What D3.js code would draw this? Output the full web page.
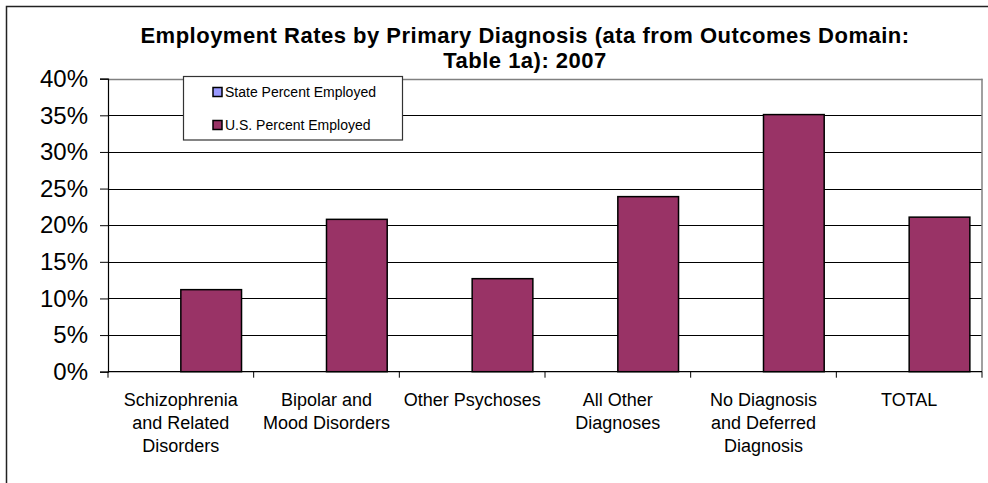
<!DOCTYPE html>
<html>
<head>
<meta charset="utf-8">
<script src="https://cdn.jsdelivr.net/npm/d3@7"></script>
<style>
html,body{margin:0;padding:0;background:#fff;}
svg{display:block;font-family:Arial,"Liberation Sans",sans-serif;}
</style>
</head>
<body>
<svg id="chart" width="988" height="483"></svg>
<script>
const categories = [
  ["Schizophrenia","and Related","Disorders"],
  ["Bipolar and","Mood Disorders"],
  ["Other Psychoses"],
  ["All Other","Diagnoses"],
  ["No Diagnosis","and Deferred","Diagnosis"],
  ["TOTAL"]
];
const seriesNames = ["State Percent Employed","U.S. Percent Employed"];
const statePct = [null,null,null,null,null,null];
const usPct = [11.2,20.8,12.7,23.9,35.1,21.1];
const yTicks = [0,5,10,15,20,25,30,35,40];
const titleLines = ["Employment Rates by Primary Diagnosis (ata from Outcomes Domain:","Table 1a): 2007"];
const colors = ["#9999FF","#993366"];

const svg = d3.select("#chart");
const W = 988, H = 483;
const plot = {left:108, right:982, top:78.7, bottom:371.7};

// outer frame
svg.append("rect").attr("x",6.5).attr("y",6.5).attr("width",W+10).attr("height",H+10)
  .attr("fill","#fff").attr("stroke","#222").attr("stroke-width",1.5);

const idx = categories.map((d,i)=>i);
const x = d3.scaleBand().domain(idx).range([plot.left,plot.right]).paddingInner(0).paddingOuter(0);
const inner = d3.scaleBand().domain([0,1]).range([0,x.bandwidth()]).paddingInner(0).paddingOuter(0.2);
const y = d3.scaleLinear().domain([0,40]).range([plot.bottom,plot.top]);

// gridlines
svg.append("g").selectAll("line").data(yTicks.filter(t=>t>0 && t<40)).join("line")
  .attr("x1",plot.left).attr("x2",plot.right)
  .attr("y1",d=>Math.round(y(d))+0.5).attr("y2",d=>Math.round(y(d))+0.5)
  .attr("stroke","#000").attr("stroke-width",1);

// top & right gray borders
svg.append("line").attr("x1",plot.left).attr("x2",plot.right+0.5)
  .attr("y1",Math.round(y(40))+0.5).attr("y2",Math.round(y(40))+0.5)
  .attr("stroke","#808080").attr("stroke-width",1.5);
svg.append("line").attr("x1",plot.right).attr("x2",plot.right)
  .attr("y1",y(40)).attr("y2",plot.bottom)
  .attr("stroke","#808080").attr("stroke-width",1.5);

// bars
const series = [statePct, usPct];
const g = svg.append("g");
series.forEach((vals,si)=>{
  g.selectAll(null).data(vals.map((v,i)=>({v,i})).filter(d=>d.v!=null)).join("rect")
    .attr("x",d=>x(d.i)+inner(si))
    .attr("width",inner.bandwidth())
    .attr("y",d=>y(d.v))
    .attr("height",d=>plot.bottom-y(d.v))
    .attr("fill",colors[si]).attr("stroke","#000").attr("stroke-width",1.5);
});

// y axis
const yAxis = d3.axisLeft(y).tickValues(yTicks).tickFormat(d=>d+"%").tickSize(8).tickPadding(12);
const ya = svg.append("g").attr("transform",`translate(${plot.left},0)`).call(yAxis);
ya.select(".domain").attr("stroke","#000").attr("stroke-width",1.2);
ya.selectAll(".tick line").attr("stroke","#000");
ya.selectAll(".tick text").attr("font-size",24).attr("fill","#000").attr("font-family","Arial,'Liberation Sans',sans-serif");

// x axis
const bounds = d3.range(categories.length+1).map(i=>plot.left + i*x.bandwidth());
svg.append("line").attr("x1",plot.left).attr("x2",plot.right)
  .attr("y1",plot.bottom).attr("y2",plot.bottom).attr("stroke","#000").attr("stroke-width",1.2);
svg.append("g").selectAll("line").data(bounds).join("line")
  .attr("x1",d=>d).attr("x2",d=>d).attr("y1",plot.bottom).attr("y2",plot.bottom+6)
  .attr("stroke","#000");

const lbl = svg.append("g").attr("font-size",18).attr("fill","#000").attr("text-anchor","middle");
categories.forEach((lines,i)=>{
  const t = lbl.append("text").attr("x",x(i)+x.bandwidth()/2).attr("y",405.5);
  lines.forEach((l,j)=>t.append("tspan").attr("x",x(i)+x.bandwidth()/2).attr("y",405.5+j*23).text(l));
});

// title
const tt = svg.append("text").attr("text-anchor","middle").attr("font-weight","bold").attr("font-size",22)
  .attr("letter-spacing",0.5).attr("fill","#000");
titleLines.forEach((l,j)=>tt.append("tspan").attr("x",525).attr("y",43+j*25).text(l));

// legend
const lg = svg.append("g");
lg.append("rect").attr("x",183.5).attr("y",76.5).attr("width",219).attr("height",63.5)
  .attr("fill","#fff").attr("stroke","#333").attr("stroke-width",1.2);
seriesNames.forEach((n,i)=>{
  const yy = 92 + i*33;
  lg.append("rect").attr("x",213).attr("y",yy-4.5).attr("width",9).attr("height",9)
    .attr("fill",colors[i]).attr("stroke","#000").attr("stroke-width",1.5);
  lg.append("text").attr("x",225).attr("y",yy+5).attr("font-size",14).attr("fill","#000").text(n);
});
</script>
</body>
</html>
